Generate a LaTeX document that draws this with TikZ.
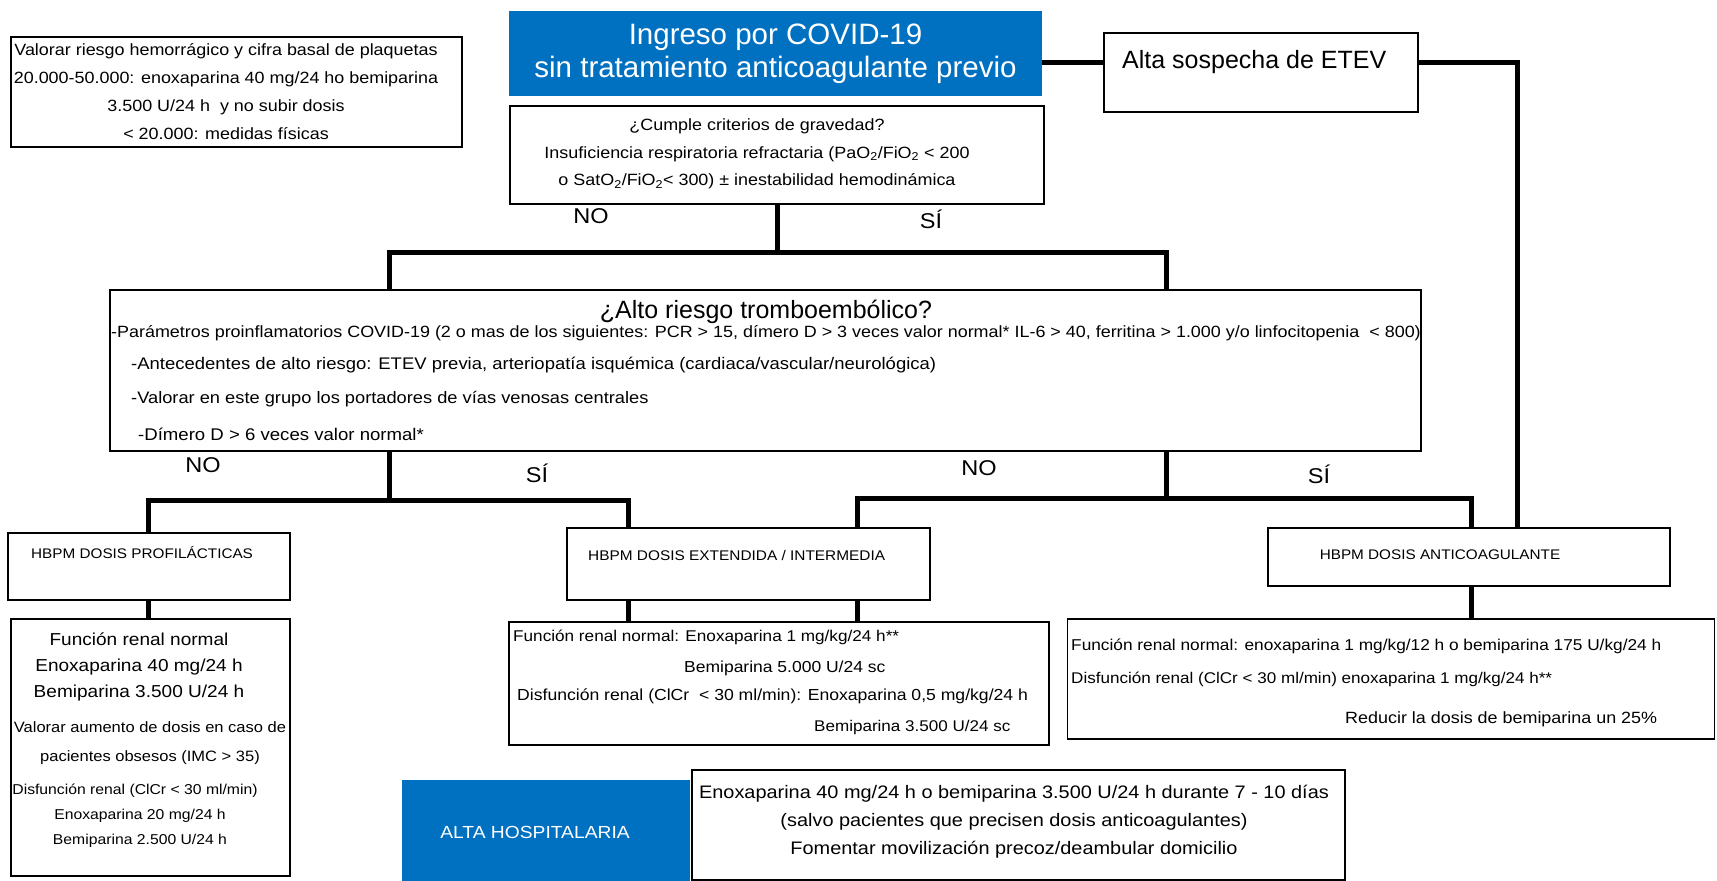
\documentclass[tikz,border=0pt]{standalone}
\usepackage{fontspec}
\setmainfont[FakeStretch=1.1]{Liberation Sans}
\newfontfamily\plainfont{Liberation Sans}
\definecolor{covidblue}{RGB}{0,112,192}
\newcommand{\fsz}[2]{\fontsize{#1}{#2}\selectfont}

\begin{document}
\begin{tikzpicture}[x=1pt,y=-1pt]
\tikzstyle{box} = [draw, line width=1.5pt, inner sep=0pt]
\tikzstyle{bluebox} = [fill=covidblue, text=white, inner sep=0pt]
\tikzstyle{txt} = [inner sep=0pt]
\tikzstyle{link} = [line width=5pt]
\tikzstyle{yesno} = [inner sep=0pt, font=\fsz{21.4}{24}]

\useasboundingbox (0,0) rectangle (1717,881);

% top row
\node[box, minimum width=451pt, minimum height=110pt] (riesgo) at (236.5,92) {};
\node[txt, align=center, font=\fsz{16.3}{28}] (riesgotxt) at (226,92)
	{Valorar riesgo hemorrágico y cifra basal de plaquetas\\20.000-50.000: enoxaparina 40 mg/24 ho bemiparina\\3.500 U/24 h\ \ y no subir dosis\\< 20.000: medidas físicas};
\node[bluebox, minimum width=533pt, minimum height=85pt, align=center, font=\plainfont\fsz{29.5}{33}] (ingreso) at (775.5,53.5)
	{Ingreso por COVID-19\\sin tratamiento anticoagulante previo};
\node[box, minimum width=314pt, minimum height=79pt] (sospecha) at (1261,72.5) {};
\node[txt, anchor=west, font=\plainfont\fsz{25}{28}] (sospechatxt) at (1122,62) {Alta sospecha de ETEV};
\node[box, minimum width=534pt, minimum height=98pt] (criterios) at (777,155) {};
\node[txt, align=center, font=\fsz{16.3}{27.5}] (criteriostxt) at (757,154)
	{¿Cumple criterios de gravedad?\\Insuficiencia respiratoria refractaria (PaO\textsubscript{2}/FiO\textsubscript{2} < 200\\o SatO\textsubscript{2}/FiO\textsubscript{2}< 300) ± inestabilidad hemodinámica};

% alto riesgo
\node[box, minimum width=1311pt, minimum height=161pt] (tromb) at (765.5,370.5) {};
\node[txt, font=\plainfont\fsz{25}{28}] (trombtit) at (766,312) {¿Alto riesgo tromboembólico?};
\node[txt, anchor=west, font=\fsz{16.3}{18}] (tromb1) at (111,333)
	{-Parámetros proinflamatorios COVID-19 (2 o mas de los siguientes: PCR > 15, dímero D > 3 veces valor normal* IL-6 > 40, ferritina > 1.000 y/o linfocitopenia\ \ < 800)};
\node[txt, anchor=west, font=\fsz{16.8}{18}] (tromb2) at (131,365)
	{-Antecedentes de alto riesgo: ETEV previa, arteriopatía isquémica (cardiaca/vascular/neurológica)};
\node[txt, anchor=west, font=\fsz{16.6}{18}] (tromb3) at (131,399)
	{-Valorar en este grupo los portadores de vías venosas centrales};
\node[txt, anchor=west, font=\fsz{16.9}{18}] (tromb4) at (138,434)
	{-Dímero D > 6 veces valor normal*};

% dosis
\node[box, minimum width=282pt, minimum height=67pt] (profil) at (149,566.5) {};
\node[txt, anchor=west, font=\fsz{13.9}{17}] (profiltxt) at (31,553) {HBPM DOSIS PROFILÁCTICAS};
\node[box, minimum width=363pt, minimum height=72pt] (extend) at (748.5,564) {};
\node[txt, anchor=west, font=\fsz{14}{17}] (extendtxt) at (588,555) {HBPM DOSIS EXTENDIDA / INTERMEDIA};
\node[box, minimum width=402pt, minimum height=58pt] (anticoag) at (1469,557) {};
\node[txt, font=\fsz{13.9}{17}] (anticoagtxt) at (1440,555) {HBPM DOSIS ANTICOAGULANTE};

% renal
\node[box, minimum width=279pt, minimum height=257pt] (renal1) at (150.5,747.5) {};
\node[txt, align=center, font=\fsz{17.3}{26}] (renal1a) at (139,667)
	{Función renal normal\\Enoxaparina 40 mg/24 h\\Bemiparina 3.500 U/24 h};
\node[txt, align=center, font=\fsz{15}{29}] (renal1b) at (150,743.5)
	{Valorar aumento de dosis en caso de\\pacientes obsesos (IMC > 35)};
\node[txt, align=center, font=\fsz{14.3}{25}] (renal1c) at (135,816)
	{Disfunción renal (ClCr < 30 ml/min)\\\hspace*{10pt}Enoxaparina 20 mg/24 h\\\hspace*{10pt}Bemiparina 2.500 U/24 h};

\node[box, minimum width=540pt, minimum height=123pt] (renal2) at (779,683.5) {};
\node[txt, anchor=west, font=\fsz{15.6}{20}] (renal2a) at (513,637) {Función renal normal: Enoxaparina 1 mg/kg/24 h**};
\node[txt, anchor=west, font=\fsz{15.9}{20}] (renal2b) at (684,668) {Bemiparina 5.000 U/24 sc};
\node[txt, anchor=west, font=\fsz{16}{18}] (renal2c) at (517,696) {Disfunción renal (ClCr\ \ < 30 ml/min): Enoxaparina 0,5 mg/kg/24 h};
\node[txt, anchor=west, font=\fsz{15.5}{18}] (renal2d) at (814,727) {Bemiparina 3.500 U/24 sc};

\node[box, minimum width=647pt, minimum height=120pt] (renal3) at (1391,679) {};
\node[txt, anchor=west, font=\fsz{15.7}{18}] (renal3a) at (1071,646) {Función renal normal: enoxaparina 1 mg/kg/12 h o bemiparina 175 U/kg/24 h};
\node[txt, anchor=west, font=\fsz{15.5}{18}] (renal3b) at (1071,679) {Disfunción renal (ClCr < 30 ml/min) enoxaparina 1 mg/kg/24 h**};
\node[txt, anchor=west, font=\fsz{16.3}{18}] (renal3c) at (1345,719) {Reducir la dosis de bemiparina un 25\%};

% alta
\node[bluebox, minimum width=288pt, minimum height=101pt] (altahosp) at (546,830.5) {};
\node[txt, text=white, font=\fsz{17.5}{20}] (altahosptxt) at (535,832) {ALTA HOSPITALARIA};
\node[box, minimum width=653pt, minimum height=110pt] (alta) at (1018.5,825) {};
\node[txt, align=center, font=\fsz{18.1}{28}] (altatxt) at (1014,822)
	{Enoxaparina 40 mg/24 h o bemiparina 3.500 U/24 h durante 7 - 10 días\\(salvo pacientes que precisen dosis anticoagulantes)\\Fomentar movilización precoz/deambular domicilio};

% si / no
\node[yesno] (no1) at (591,216) {NO};
\node[yesno] (si1) at (931,219) {SÍ};
\node[yesno] (no2) at (203,465) {NO};
\node[yesno] (si2) at (537,473) {SÍ};
\node[yesno] (no3) at (979,468) {NO};
\node[yesno] (si3) at (1319,474) {SÍ};

% connectors
\coordinate (bendA) at (1517,62);
\coordinate (splitA) at (777,252);
\coordinate (noA) at (389,252);
\coordinate (siA) at (1166,252);
\coordinate (noB) at (389,500);
\coordinate (profB) at (148,500);
\coordinate (extB) at (628,500);
\coordinate (siC) at (1166,498);
\coordinate (extC) at (857,498);
\coordinate (antiC) at (1471,498);

\draw[link] (ingreso.east |- sospechatxt) -- (sospecha.west |- sospechatxt);
\draw[link] (sospecha.east |- bendA) -- (bendA) -- (bendA |- anticoag.north);
\draw[link] (criterios.south) -- (splitA);
\draw[link] (tromb.north -| noA) -- (noA) -- (siA) -- (tromb.north -| siA);
\draw[link] (tromb.south -| noB) -- (noB);
\draw[link] (profil.north -| profB) -- (profB) -- (extB) -- (extend.north -| extB);
\draw[link] (tromb.south -| siC) -- (siC);
\draw[link] (extend.north -| extC) -- (extC) -- (antiC) -- (anticoag.north -| antiC);
\draw[link] (profil.south -| profB) -- (renal1.north -| profB);
\draw[link] (extend.south -| extB) -- (renal2.north -| extB);
\draw[link] (extend.south -| extC) -- (renal2.north -| extC);
\draw[link] (anticoag.south -| antiC) -- (renal3.north -| antiC);
\end{tikzpicture}
\end{document}
